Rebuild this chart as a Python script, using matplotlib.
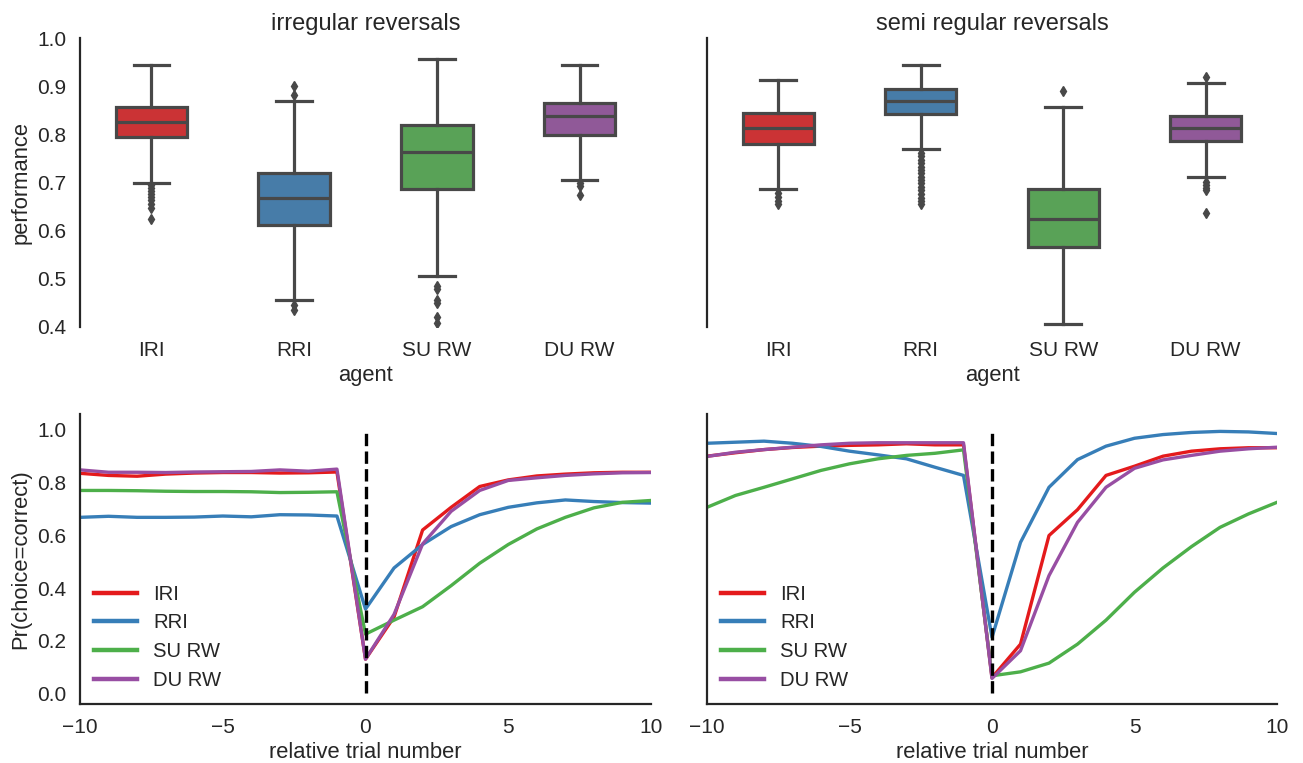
import colorsys

import matplotlib
matplotlib.use("Agg")
import matplotlib.pyplot as plt
import matplotlib.colors as mcolors

plt.rcParams["font.family"] = ["Liberation Sans", "DejaVu Sans"]
plt.rcParams["text.color"] = "#262626"
plt.rcParams["axes.labelcolor"] = "#262626"
plt.rcParams["xtick.color"] = "#262626"
plt.rcParams["ytick.color"] = "#262626"

agents = ["IRI", "RRI", "SU RW", "DU RW"]
set1 = ["#e41a1c", "#377eb8", "#4daf4a", "#984ea3"]

# box summaries: whislo, q1, median, q3, whishi
irr_whislo = [0.700, 0.456, 0.506, 0.706]
irr_q1 = [0.794, 0.611, 0.687, 0.799]
irr_med = [0.825, 0.668, 0.763, 0.838]
irr_q3 = [0.857, 0.719, 0.819, 0.865]
irr_whishi = [0.944, 0.870, 0.956, 0.944]
irr_fliers = [
    [0.694, 0.688, 0.682, 0.676, 0.670, 0.664, 0.656, 0.648, 0.624],
    [0.900, 0.882, 0.446, 0.435],
    [0.486, 0.478, 0.456, 0.449, 0.420, 0.408],
    [0.699, 0.692, 0.675],
]

semi_whislo = [0.687, 0.769, 0.406, 0.712]
semi_q1 = [0.780, 0.843, 0.567, 0.786]
semi_med = [0.814, 0.870, 0.624, 0.814]
semi_q3 = [0.845, 0.895, 0.687, 0.838]
semi_whishi = [0.913, 0.944, 0.856, 0.907]
semi_fliers = [
    [0.678, 0.670, 0.662, 0.655],
    [0.761, 0.754, 0.747, 0.740, 0.733, 0.726, 0.719, 0.712, 0.705,
     0.698, 0.691, 0.684, 0.676, 0.668, 0.661, 0.655],
    [0.889],
    [0.920, 0.702, 0.695, 0.689, 0.684, 0.637],
]

trials = list(range(-10, 11))
irr_curves = {
    "IRI": [0.835, 0.827, 0.824, 0.832, 0.836, 0.838, 0.838, 0.836, 0.837, 0.840,
            0.130, 0.290, 0.620, 0.706, 0.785, 0.810, 0.825, 0.832, 0.837, 0.839, 0.839],
    "RRI": [0.668, 0.672, 0.668, 0.668, 0.669, 0.673, 0.670, 0.678, 0.677, 0.673,
            0.320, 0.476, 0.565, 0.633, 0.678, 0.706, 0.723, 0.734, 0.728, 0.724, 0.722],
    "SU RW": [0.770, 0.770, 0.769, 0.767, 0.766, 0.766, 0.765, 0.762, 0.763, 0.765,
              0.225, 0.278, 0.329, 0.409, 0.494, 0.565, 0.624, 0.668, 0.704, 0.725, 0.732],
    "DU RW": [0.848, 0.839, 0.839, 0.838, 0.840, 0.841, 0.842, 0.848, 0.843, 0.851,
              0.130, 0.300, 0.567, 0.691, 0.770, 0.808, 0.818, 0.827, 0.833, 0.837, 0.838],
}
semi_curves = {
    "IRI": [0.900, 0.913, 0.925, 0.933, 0.938, 0.941, 0.943, 0.947, 0.943, 0.943,
            0.060, 0.187, 0.599, 0.697, 0.827, 0.862, 0.900, 0.919, 0.928, 0.932, 0.932],
    "RRI": [0.949, 0.953, 0.957, 0.949, 0.937, 0.919, 0.905, 0.890, 0.858, 0.827,
            0.213, 0.573, 0.782, 0.887, 0.938, 0.968, 0.982, 0.990, 0.994, 0.992, 0.986],
    "SU RW": [0.706, 0.751, 0.782, 0.814, 0.846, 0.871, 0.890, 0.903, 0.911, 0.924,
              0.067, 0.082, 0.115, 0.187, 0.278, 0.384, 0.476, 0.557, 0.630, 0.681, 0.725],
    "DU RW": [0.899, 0.915, 0.925, 0.934, 0.943, 0.949, 0.951, 0.951, 0.951, 0.951,
              0.057, 0.162, 0.447, 0.649, 0.782, 0.854, 0.886, 0.903, 0.919, 0.928, 0.934],
}


def desaturate(c, prop=0.75):
    h, l, s = colorsys.rgb_to_hls(*mcolors.to_rgb(c))
    return colorsys.hls_to_rgb(h, l, s * prop)


box_colors = [desaturate(c) for c in set1]
gray = "#484848"


def draw_boxes(ax, lo, q1, med, q3, hi, fliers, title):
    stats = []
    for i in range(len(agents)):
        stats.append(dict(whislo=lo[i], q1=q1[i], med=med[i], q3=q3[i],
                          whishi=hi[i], fliers=fliers[i], label=agents[i]))
    bp = ax.bxp(stats, positions=range(len(agents)), widths=0.5, patch_artist=True,
                boxprops=dict(linewidth=2.3, edgecolor=gray),
                medianprops=dict(color=gray, linewidth=2.3),
                whiskerprops=dict(color=gray, linewidth=2.3),
                capprops=dict(color=gray, linewidth=2.3),
                flierprops=dict(marker="d", markersize=5, markerfacecolor=gray,
                                markeredgecolor=gray))
    for patch, col in zip(bp["boxes"], box_colors):
        patch.set_facecolor(col)
    ax.set_xlim(-0.5, 3.5)
    ax.set_ylim(0.4, 1.0)
    ax.set_title(title, fontsize=17)
    ax.set_xlabel("agent", fontsize=15.8, labelpad=4)
    for s in ["top", "right", "bottom"]:
        ax.spines[s].set_visible(False)


def draw_lines(ax, curves):
    for name, col in zip(agents, set1):
        ax.plot(trials, curves[name], color=col, lw=2.4, label=name)
    ax.plot([0, 0], [0, 1], "k--", lw=2.4)
    ax.set_xlim(-10, 10)
    ax.set_ylim(-0.04, 1.06)
    ax.set_xticks([-10, -5, 0, 5, 10])
    ax.set_xlabel("relative trial number", fontsize=15.8, labelpad=4)
    leg = ax.legend(loc="lower left", frameon=False, fontsize=14.6, handlelength=2.1,
                    labelspacing=0.48, borderaxespad=0.3)
    for h in leg.get_lines():
        h.set_linewidth(3.2)
    for s in ["top", "right"]:
        ax.spines[s].set_visible(False)


fig = plt.figure(figsize=(13.03, 7.63), dpi=100)
ax1 = fig.add_axes([80 / 1303, 1 - 327 / 763, 571 / 1303, 289 / 763])
ax2 = fig.add_axes([707 / 1303, 1 - 327 / 763, 570 / 1303, 289 / 763], sharey=ax1)
ax3 = fig.add_axes([80 / 1303, 1 - 704 / 763, 571 / 1303, 290 / 763])
ax4 = fig.add_axes([707 / 1303, 1 - 704 / 763, 570 / 1303, 290 / 763], sharey=ax3)

draw_boxes(ax1, irr_whislo, irr_q1, irr_med, irr_q3, irr_whishi, irr_fliers,
           "irregular reversals")
draw_boxes(ax2, semi_whislo, semi_q1, semi_med, semi_q3, semi_whishi, semi_fliers,
           "semi regular reversals")
ax1.set_ylabel("performance", fontsize=15.8)
ax1.set_yticks([0.4, 0.5, 0.6, 0.7, 0.8, 0.9, 1.0])

draw_lines(ax3, irr_curves)
draw_lines(ax4, semi_curves)
ax3.set_ylabel("Pr(choice=correct)", fontsize=15.8)
ax3.set_yticks([0.0, 0.2, 0.4, 0.6, 0.8, 1.0])

for ax in [ax1, ax2, ax3, ax4]:
    ax.tick_params(length=0, pad=10, labelsize=15)
    for s in ax.spines.values():
        s.set_linewidth(1.6)
        s.set_color("#262626")
plt.setp(ax2.get_yticklabels(), visible=False)
plt.setp(ax4.get_yticklabels(), visible=False)

fig.savefig("out.png", dpi=100)
